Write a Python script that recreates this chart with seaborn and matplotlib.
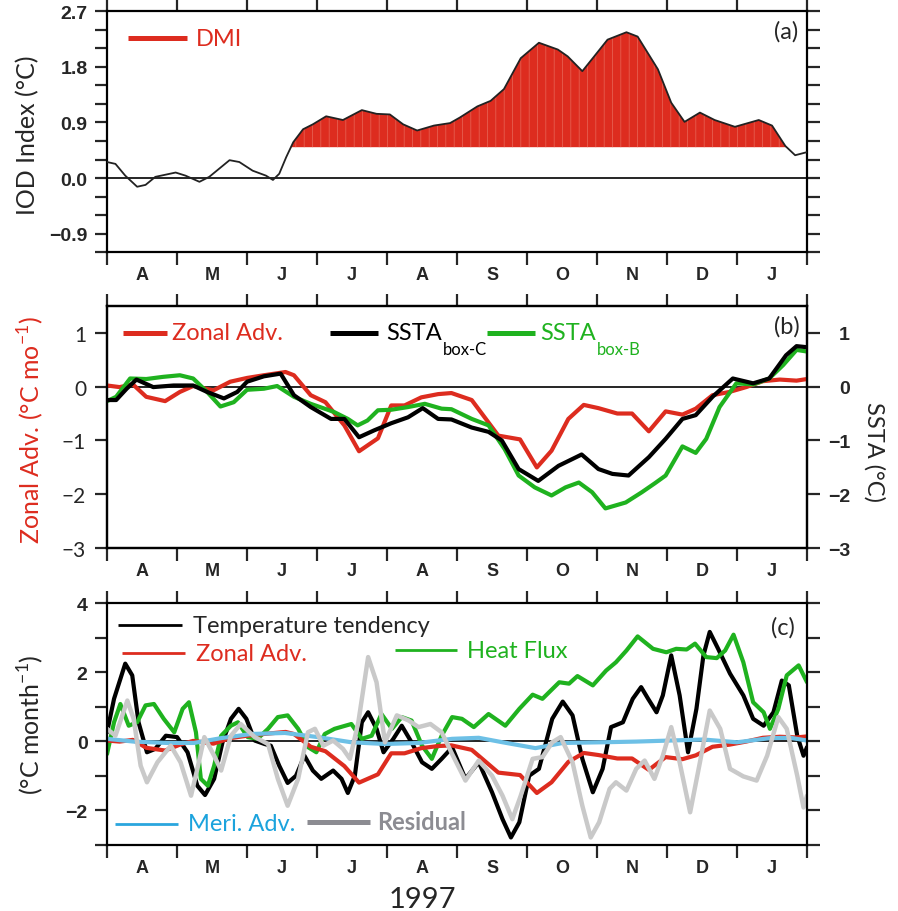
import numpy as np
import matplotlib
matplotlib.use('Agg')
import matplotlib.pyplot as plt
import seaborn as sns

# time axis: months since 1 Apr 1997
months = ['A', 'M', 'J', 'J', 'A', 'S', 'O', 'N', 'D', 'J']

# (a) DMI
dmi_t = [0.00, 0.12, 0.26, 0.43, 0.55, 0.69, 0.98, 1.12, 1.32, 1.46,
         1.75, 1.89, 2.08, 2.27, 2.37, 2.46, 2.56, 2.66, 2.80, 2.94,
         3.13, 3.37, 3.64, 3.85, 4.04, 4.23, 4.43, 4.67, 4.90, 5.04,
         5.29, 5.48, 5.67, 5.91, 6.17, 6.44, 6.58, 6.79, 6.96, 7.15,
         7.42, 7.58, 7.87, 8.06, 8.25, 8.47, 8.68, 8.97, 9.31, 9.50,
         9.69, 9.83, 10.0]
dmi = [0.26, 0.23, 0.04, -0.14, -0.11, 0.02, 0.09, 0.04, -0.06, 0.02,
       0.29, 0.26, 0.12, 0.04, -0.03, 0.07, 0.34, 0.58, 0.79, 0.87,
       1.00, 0.94, 1.10, 1.04, 1.03, 0.87, 0.77, 0.85, 0.89, 0.98,
       1.16, 1.25, 1.44, 1.94, 2.19, 2.08, 1.97, 1.73, 1.97, 2.24,
       2.36, 2.29, 1.76, 1.22, 0.91, 1.06, 0.94, 0.83, 0.94, 0.85,
       0.52, 0.37, 0.42]
dmi_base = 0.5

# (b) zonal advection (also used in c)
zadv_t = [0.00, 0.18, 0.37, 0.56, 0.83, 1.04, 1.23, 1.52, 1.76, 2.00,
          2.24, 2.55, 2.67, 2.91, 3.12, 3.39, 3.60, 3.87, 4.06, 4.25,
          4.49, 4.73, 4.92, 5.21, 5.59, 5.90, 6.14, 6.35, 6.59, 6.81,
          7.02, 7.29, 7.50, 7.74, 7.98, 8.22, 8.41, 8.65, 8.89, 9.13,
          9.37, 9.61, 9.85, 10.0]
zadv = [0.02, -0.01, 0.04, -0.19, -0.27, -0.10, 0.01, -0.07, 0.09, 0.16,
        0.21, 0.27, 0.21, -0.16, -0.29, -0.72, -1.20, -0.96, -0.35, -0.35,
        -0.20, -0.14, -0.12, -0.25, -0.91, -0.98, -1.50, -1.19, -0.60, -0.34,
        -0.40, -0.50, -0.50, -0.83, -0.46, -0.52, -0.41, -0.16, -0.10, -0.01,
        0.10, 0.13, 0.11, 0.14]

ssta_c_t = [0.00, 0.13, 0.28, 0.42, 0.66, 0.95, 1.23, 1.43, 1.67, 1.86,
            2.00, 2.24, 2.48, 2.67, 2.91, 3.20, 3.39, 3.60, 3.82, 4.06,
            4.30, 4.51, 4.73, 4.92, 5.21, 5.45, 5.64, 5.88, 6.16, 6.45,
            6.78, 7.02, 7.22, 7.45, 7.74, 7.98, 8.22, 8.41, 8.65, 8.94,
            9.23, 9.46, 9.70, 9.85, 10.0]
ssta_c = [-0.25, -0.25, -0.04, 0.13, -0.01, 0.02, 0.02, -0.10, -0.22, -0.10,
          0.09, 0.19, 0.24, -0.16, -0.38, -0.60, -0.60, -0.94, -0.81, -0.68,
          -0.57, -0.40, -0.60, -0.61, -0.76, -0.84, -1.00, -1.53, -1.75, -1.47,
          -1.26, -1.53, -1.62, -1.65, -1.31, -0.97, -0.60, -0.53, -0.19, 0.15,
          0.06, 0.15, 0.58, 0.75, 0.73]

ssta_b_t = [0.00, 0.13, 0.33, 0.56, 0.80, 1.04, 1.23, 1.43, 1.62, 1.81,
            2.00, 2.24, 2.43, 2.67, 2.91, 3.24, 3.44, 3.58, 3.72, 3.87,
            4.06, 4.30, 4.54, 4.78, 4.92, 5.21, 5.45, 5.68, 5.88, 6.11,
            6.35, 6.55, 6.74, 6.93, 7.12, 7.41, 7.64, 7.83, 7.98, 8.22,
            8.41, 8.56, 8.75, 8.99, 9.23, 9.46, 9.66, 9.85, 10.0]
ssta_b = [-0.27, -0.19, 0.15, 0.14, 0.18, 0.21, 0.15, -0.10, -0.37, -0.29,
          -0.06, -0.04, 0.01, -0.19, -0.32, -0.47, -0.60, -0.72, -0.63, -0.44,
          -0.43, -0.38, -0.32, -0.41, -0.42, -0.60, -0.72, -1.16, -1.65, -1.87,
          -2.02, -1.87, -1.78, -1.96, -2.26, -2.15, -1.96, -1.79, -1.65, -1.11,
          -1.23, -0.97, -0.38, 0.06, 0.04, 0.15, 0.40, 0.68, 0.65]

# (c) heat budget terms
tend_t = [0.00, 0.10, 0.26, 0.36, 0.45, 0.57, 0.69, 0.84, 1.00, 1.15,
          1.29, 1.40, 1.53, 1.65, 1.77, 1.88, 1.99, 2.11, 2.25, 2.34,
          2.46, 2.58, 2.70, 2.82, 2.94, 3.06, 3.23, 3.35, 3.44, 3.54,
          3.64, 3.73, 3.85, 3.95, 4.09, 4.21, 4.35, 4.50, 4.64, 4.78,
          4.93, 5.12, 5.31, 5.50, 5.65, 5.77, 5.89, 6.03, 6.17, 6.36,
          6.51, 6.65, 6.79, 6.94, 7.08, 7.20, 7.37, 7.51, 7.63, 7.73,
          7.85, 7.94, 8.06, 8.18, 8.30, 8.42, 8.52, 8.61, 8.73, 8.90,
          9.09, 9.23, 9.38, 9.52, 9.64, 9.74, 9.86, 9.95, 10.0]
tend = [0.26, 1.23, 2.25, 1.91, 0.55, -0.32, -0.22, 0.16, 0.12, -0.32,
        -1.29, -1.56, -1.09, -0.03, 0.65, 0.94, 0.65, 0.02, -0.08, -0.13,
        -0.71, -1.21, -1.00, -0.42, -0.85, -1.09, -0.85, -1.09, -1.50, -1.00,
        0.55, 0.84, 0.36, -0.32, 0.07, 0.45, -0.03, -0.61, -0.80, -0.51,
        -0.18, -1.09, -0.61, -1.48, -2.26, -2.79, -2.35, -1.00, -0.80, 0.65,
        1.15, 0.75, -0.51, -1.48, -0.80, 0.41, 0.55, 1.23, 1.57, 1.23,
        0.84, 1.33, 2.49, 1.33, -0.32, 0.94, 2.49, 3.17, 2.68, 1.96,
        1.33, 0.65, 0.45, 0.84, 1.76, 1.62, 0.16, -0.42, -0.17]

hflx_t = [0.00, 0.10, 0.19, 0.31, 0.43, 0.55, 0.67, 0.81, 0.96, 1.08,
          1.17, 1.27, 1.34, 1.44, 1.53, 1.63, 1.77, 1.87, 2.01, 2.15,
          2.30, 2.44, 2.58, 2.73, 2.87, 2.99, 3.11, 3.25, 3.49, 3.64,
          3.78, 3.92, 4.07, 4.21, 4.35, 4.50, 4.64, 4.78, 4.93, 5.07,
          5.24, 5.45, 5.69, 5.89, 6.08, 6.22, 6.46, 6.60, 6.72, 6.94,
          7.13, 7.27, 7.42, 7.58, 7.80, 7.99, 8.13, 8.28, 8.40, 8.56,
          8.71, 8.83, 8.95, 9.09, 9.23, 9.38, 9.47, 9.59, 9.71, 9.88,
          10.0]
hflx = [-0.37, 0.55, 1.08, 0.45, 0.55, 1.04, 1.08, 0.65, 0.26, 0.94,
        1.13, 0.26, -1.09, -1.29, -0.71, 0.16, 0.45, 0.55, 0.12, 0.07,
        0.36, 0.70, 0.75, 0.36, -0.17, -0.32, 0.21, 0.36, 0.50, 0.07,
        0.16, 0.79, 0.36, 0.70, 0.60, -0.13, -0.51, 0.16, 0.70, 0.65,
        0.41, 0.79, 0.45, 0.94, 1.35, 1.23, 1.71, 1.67, 1.89, 1.62,
        2.05, 2.29, 2.63, 3.04, 2.68, 2.58, 2.68, 2.66, 2.83, 2.44,
        2.41, 2.63, 3.09, 2.29, 1.13, 0.84, 0.36, 0.94, 1.91, 2.20,
        1.71]

madv_t = [0.00, 0.38, 0.86, 1.24, 1.63, 2.06, 2.54, 3.01, 3.49, 3.97,
          4.45, 4.93, 5.31, 5.65, 6.12, 6.51, 7.08, 7.56, 8.04, 8.52,
          9.00, 9.47, 9.76, 10.0]
madv = [0.07, -0.01, -0.05, -0.05, 0.09, 0.21, 0.24, 0.12, -0.03, -0.08,
        -0.05, 0.07, 0.10, -0.03, -0.20, -0.05, -0.03, -0.01, 0.02, 0.05,
        -0.03, 0.09, 0.10, 0.02]

resid_t = [0.00, 0.12, 0.29, 0.38, 0.48, 0.57, 0.72, 0.91, 1.05, 1.20,
           1.29, 1.39, 1.53, 1.63, 1.77, 1.91, 2.11, 2.30, 2.44, 2.58,
           2.73, 2.87, 2.97, 3.09, 3.23, 3.37, 3.47, 3.59, 3.73, 3.85,
           3.97, 4.14, 4.31, 4.45, 4.62, 4.78, 4.93, 5.12, 5.31, 5.50,
           5.65, 5.79, 5.91, 6.08, 6.22, 6.36, 6.48, 6.65, 6.79, 6.91,
           7.03, 7.18, 7.27, 7.42, 7.56, 7.68, 7.82, 7.94, 8.06, 8.18,
           8.33, 8.47, 8.61, 8.76, 8.90, 9.09, 9.28, 9.43, 9.59, 9.71,
           9.86, 9.95, 10.0]
resid = [0.36, 0.16, 1.18, 0.65, -0.71, -1.19, -0.61, -0.13, -0.61, -1.58,
         -0.80, 0.12, -0.42, -0.85, 0.16, 0.50, 0.12, -0.08, -1.09, -1.87,
         -1.09, 0.26, 0.36, -0.13, 0.02, -0.22, -0.51, 0.55, 2.44, 1.71,
         -0.03, 0.75, 0.60, 0.41, 0.50, 0.26, -0.37, -1.14, -0.56, -1.00,
         -1.58, -2.26, -1.58, -0.51, -0.46, -0.03, 0.12, -0.61, -1.87, -2.79,
         -2.35, -1.38, -1.19, -1.43, -0.80, -0.56, -1.09, -0.42, 0.41, -0.61,
         -2.06, -0.61, 0.89, 0.36, -0.80, -1.02, -1.14, -0.42, 0.70, 0.36,
         -1.00, -1.92, -1.58]

RED = '#DD2C1F'
GREEN = '#1FB21F'
BLUE = '#6DC0E6'
GRAY = '#C9C9C9'

sns.set_style('ticks')
plt.rcParams['font.family'] = ['Lato', 'DejaVu Sans']
plt.rcParams['mathtext.fontset'] = 'custom'
plt.rcParams['mathtext.rm'] = 'Lato'
plt.rcParams['axes.linewidth'] = 1.6
plt.rcParams['axes.edgecolor'] = 'black'
plt.rcParams['lines.solid_joinstyle'] = 'round'
plt.rcParams['hatch.linewidth'] = 0.5

tick_font = dict(fontfamily='Liberation Sans', fontweight='bold', fontsize=14)
month_font = dict(fontfamily='Liberation Sans', fontweight='bold', fontsize=13)

fig = plt.figure(figsize=(8.98, 9.12), dpi=100)
ax_a = fig.add_axes([0.1192, 0.7223, 0.7795, 0.2643])
ax_b = fig.add_axes([0.1192, 0.3977, 0.7795, 0.2660])
ax_c = fig.add_axes([0.1192, 0.0727, 0.7795, 0.2647])


def month_axis(ax):
    ax.set_xlim(0, 10)
    ax.set_xticks(range(11), [''] * 11)
    ax.set_xticks(np.arange(0.5, 10, 1), months, minor=True, **month_font)
    ax.tick_params(axis='x', which='major', direction='out', length=9,
                   width=1.6, top=True, bottom=True)
    ax.tick_params(axis='x', which='minor', length=0, pad=10, top=False)
    ax.axhline(0, color='black', lw=1.2, zorder=1)


# ---- (a) ----
month_axis(ax_a)
ax_a.set_ylim(-1.2, 2.7)
ax_a.set_yticks([-0.9, 0.0, 0.9, 1.8, 2.7],
                ['\u22120.9', '0.0', '0.9', '1.8', '2.7'], **tick_font)
ax_a.set_yticks(np.arange(-1.2, 2.75, 0.3), minor=True)
ax_a.tick_params(axis='y', which='both', direction='out', length=9, width=1.6,
                 left=True, right=True, pad=5)
dmi_arr = np.array(dmi)
ax_a.fill_between(dmi_t, dmi_arr, dmi_base, where=dmi_arr > dmi_base,
                  interpolate=True, facecolor=RED, edgecolor='#E8695A',
                  hatch='||', lw=0, zorder=2)
sns.lineplot(x=dmi_t, y=dmi, ax=ax_a, color='#222222', lw=1.3,
             estimator=None, sort=False, zorder=3)
ax_a.plot([0.03, 0.114], [0.888, 0.888], transform=ax_a.transAxes,
          color=RED, lw=3.6, solid_capstyle='butt')
ax_a.text(0.127, 0.888, 'DMI', transform=ax_a.transAxes, color=RED,
          fontsize=17, va='center')
ax_a.text(0.987, 0.92, '(a)', transform=ax_a.transAxes, fontsize=17,
          ha='right', va='center')
ax_a.text(-0.114, 0.49, 'IOD Index (\u00b0C)', transform=ax_a.transAxes,
          fontsize=18, rotation=90, ha='center', va='center')

# ---- (b) ----
month_axis(ax_b)
ax_b.set_ylim(-3, 1.5)
ax_b.set_yticks([-3, -2, -1, 0, 1], ['\u22123', '\u22122', '\u22121', '0', '1'],
                fontsize=15)
ax_b.tick_params(axis='y', direction='out', length=9, width=1.6, pad=6)
sns.lineplot(x=zadv_t, y=zadv, ax=ax_b, color=RED, lw=3.0,
             estimator=None, sort=False, zorder=4)
ax_b2 = ax_b.twinx()
ax_b2.set_ylim(-3, 1.5)
ax_b2.set_yticks([-3, -2, -1, 0, 1], ['\u22123', '\u22122', '\u22121', '0', '1'],
                 ha='right', **tick_font)
ax_b2.tick_params(axis='y', direction='out', length=9, width=1.6, pad=22)
sns.lineplot(x=ssta_b_t, y=ssta_b, ax=ax_b2, color=GREEN, lw=3.0,
             estimator=None, sort=False)
sns.lineplot(x=ssta_c_t, y=ssta_c, ax=ax_b2, color='black', lw=3.0,
             estimator=None, sort=False)
ax_b2.set_ylabel('')
ax_b.plot([0.023, 0.086], [0.888, 0.888], transform=ax_b.transAxes,
          color=RED, lw=3.6, solid_capstyle='butt')
ax_b.text(0.093, 0.888, 'Zonal Adv.', transform=ax_b.transAxes, color=RED,
          fontsize=17, va='center')
ax_b.plot([0.319, 0.387], [0.888, 0.888], transform=ax_b.transAxes,
          color='black', lw=3.6, solid_capstyle='butt')
t1 = ax_b.text(0.399, 0.888, 'SSTA', transform=ax_b.transAxes, color='black',
               fontsize=17, va='center')
ax_b.annotate('box-C', xy=(1, 0), xycoords=t1, xytext=(0.5, -4),
              textcoords='offset points', fontsize=12, color='black',
              va='center')
ax_b.plot([0.543, 0.611], [0.888, 0.888], transform=ax_b.transAxes,
          color=GREEN, lw=3.6, solid_capstyle='butt')
t2 = ax_b.text(0.619, 0.888, 'SSTA', transform=ax_b.transAxes, color=GREEN,
               fontsize=17, va='center')
ax_b.annotate('box-B', xy=(1, 0), xycoords=t2, xytext=(0.5, -4),
              textcoords='offset points', fontsize=12, color=GREEN,
              va='center')
ax_b.text(0.99, 0.917, '(b)', transform=ax_b.transAxes, fontsize=17,
          ha='right', va='center')
ax_b.text(-0.109, 0.49, 'Zonal Adv. (\u00b0C mo$^{-1}$)', transform=ax_b.transAxes,
          fontsize=18, rotation=90, ha='center', va='center', color=RED)
ax_b.text(1.096, 0.40, 'SSTA (\u00b0C)', transform=ax_b.transAxes,
          fontsize=17, rotation=-90, ha='center', va='center')

# ---- (c) ----
month_axis(ax_c)
ax_c.set_ylim(-3, 4)
ax_c.set_yticks([-2, 0, 2, 4], ['\u22122', '0', '2', '4'], **tick_font)
ax_c.set_yticks(range(-3, 5), minor=True)
ax_c.tick_params(axis='y', which='both', direction='out', length=9, width=1.6,
                 left=True, right=True, labelright=False, pad=5)
sns.lineplot(x=tend_t, y=tend, ax=ax_c, color='black', lw=3.0,
             estimator=None, sort=False)
sns.lineplot(x=hflx_t, y=hflx, ax=ax_c, color=GREEN, lw=3.0,
             estimator=None, sort=False)
sns.lineplot(x=zadv_t, y=zadv, ax=ax_c, color=RED, lw=3.0,
             estimator=None, sort=False)
sns.lineplot(x=madv_t, y=madv, ax=ax_c, color=BLUE, lw=3.0,
             estimator=None, sort=False)
sns.lineplot(x=resid_t, y=resid, ax=ax_c, color=GRAY, lw=3.2,
             estimator=None, sort=False)

ax_c.plot([0.016, 0.107], [0.909, 0.909], transform=ax_c.transAxes,
          color='black', lw=2.0, solid_capstyle='butt')
ax_c.text(0.123, 0.909, 'Temperature tendency', transform=ax_c.transAxes,
          fontsize=17, va='center')
ax_c.plot([0.021, 0.111], [0.793, 0.793], transform=ax_c.transAxes,
          color=RED, lw=2.0, solid_capstyle='butt')
ax_c.text(0.127, 0.793, 'Zonal Adv.', transform=ax_c.transAxes, color=RED,
          fontsize=17, va='center')
ax_c.plot([0.411, 0.50], [0.806, 0.806], transform=ax_c.transAxes,
          color=GREEN, lw=2.0, solid_capstyle='butt')
ax_c.text(0.514, 0.806, 'Heat Flux', transform=ax_c.transAxes, color=GREEN,
          fontsize=17, va='center')
ax_c.plot([0.011, 0.101], [0.087, 0.087], transform=ax_c.transAxes,
          color='#2AA6DE', lw=2.0, solid_capstyle='butt')
ax_c.text(0.116, 0.087, 'Meri. Adv.', transform=ax_c.transAxes, color='#1BA3DD',
          fontsize=17, va='center')
ax_c.plot([0.286, 0.376], [0.095, 0.095], transform=ax_c.transAxes,
          color='#8C8C92', lw=3.6, solid_capstyle='butt')
ax_c.text(0.386, 0.095, 'Residual', transform=ax_c.transAxes, color='#8C8C92',
          fontsize=17, va='center', fontweight='bold')
ax_c.text(0.983, 0.901, '(c)', transform=ax_c.transAxes, fontsize=17,
          ha='right', va='center')
ax_c.text(-0.109, 0.50, '(\u00b0C month$^{-1}$)', transform=ax_c.transAxes,
          fontsize=18, rotation=90, ha='center', va='center')

for ax in (ax_a, ax_b, ax_c):
    ax.set_xlabel('')
    ax.set_ylabel('')

fig.text(422 / 898, 1 - 908 / 912, '1997', fontsize=21, ha='center', va='baseline')

fig.savefig('out.png', dpi=100)
